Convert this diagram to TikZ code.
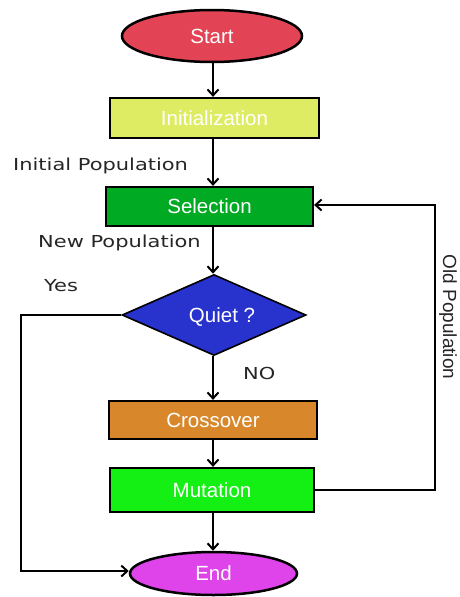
\documentclass[tikz,border=0pt]{standalone}
\usepackage{fontspec}
\usepackage{graphicx}
\setmainfont{Liberation Sans}
\newfontfamily\labfont{DejaVu Sans}
\usetikzlibrary{shapes.geometric,arrows.meta}
\definecolor{cStart}{RGB}{226,68,86}
\definecolor{cInit}{RGB}{222,236,100}
\definecolor{cSel}{RGB}{0,170,34}
\definecolor{cQuiet}{RGB}{40,50,205}
\definecolor{cCross}{RGB}{216,136,42}
\definecolor{cMut}{RGB}{20,240,20}
\definecolor{cEnd}{RGB}{222,68,234}
\tikzset{
  nodetext/.style={text=white, font=\fontsize{20.5}{24}\selectfont, inner sep=0pt},
  oval/.style={nodetext, ellipse, draw=black, line width=2.5pt},
  boxnode/.style={nodetext, rectangle, draw=black, line width=2.2pt},
  decision/.style={nodetext, diamond, draw=black, line width=1.6pt, aspect=2.27},
  flow/.style={draw=black, line width=2pt, -{Straight Barb[length=6pt,width=11pt,line width=2pt]}},
  lab/.style={font=\labfont\fontsize{16.5}{20}\selectfont, inner sep=0pt, text=black!85},
}
\begin{document}
\begin{tikzpicture}[x=1pt,y=-1pt]
\useasboundingbox (0,0) rectangle (459,597);
\node[oval, fill=cStart, minimum width=180pt, minimum height=52pt] (start) at (212,36) {Start};
\node[boxnode, fill=cInit, minimum width=209pt, minimum height=40pt] (init) at (214.5,118) {Initialization};
\node[boxnode, fill=cSel, minimum width=207pt, minimum height=39pt] (sel) at (209.5,206.5) {Selection};
\node[decision, fill=cQuiet, minimum width=184pt, minimum height=81pt] (quiet) at (214,315) {};
\node[nodetext] (quiett) at (222,317) {Quiet ?};
\node[boxnode, fill=cCross, minimum width=208pt, minimum height=38pt] (cross) at (213,420) {Crossover};
\node[boxnode, fill=cMut, minimum width=204pt, minimum height=44pt] (mut) at (212,490) {Mutation};
\node[oval, fill=cEnd, minimum width=167pt, minimum height=43pt] (end) at (213.5,573.5) {End};

\coordinate (ra) at (435,490);
\coordinate (rb) at (435,205);
\coordinate (la) at (21,315);
\coordinate (lb) at (21,571);

\draw[flow] (start.south -| 213,0) -- (init.north -| 213,0);
\draw[flow] (init.south -| 213,0) -- (sel.north -| 213,0);
\draw[flow] (sel.south -| 213,0) -- (quiet.north -| 213,0);
\draw[flow] (quiet.south -| 213,0) -- (cross.north -| 213,0);
\draw[flow] (cross.south -| 213,0) -- (mut.north -| 213,0);
\draw[flow] (mut.south -| 213,0) -- (end.north -| 213,0);
\draw[flow] (mut.east) -- (ra) -- (rb) -- (sel.east |- rb);
\draw[flow] (quiet.west) -- (la) -- (lb) -- (end.west |- lb);

\node[lab, anchor=base west] (l1) at (13,170) {\scalebox{1.27}[1]{Initial Population}};
\node[lab, anchor=base west] (l2) at (38,247) {\scalebox{1.27}[1]{New Population}};
\node[lab, anchor=base west] (l3) at (44,291) {\scalebox{1.27}[1]{Yes}};
\node[lab, anchor=base west] (l4) at (243,379) {\scalebox{1.27}[1]{NO}};
\node[font=\fontsize{19}{21}\selectfont, inner sep=0pt, rotate=-90, text=black!85] (l5) at (448,317) {Old Population};
\end{tikzpicture}
\end{document}
